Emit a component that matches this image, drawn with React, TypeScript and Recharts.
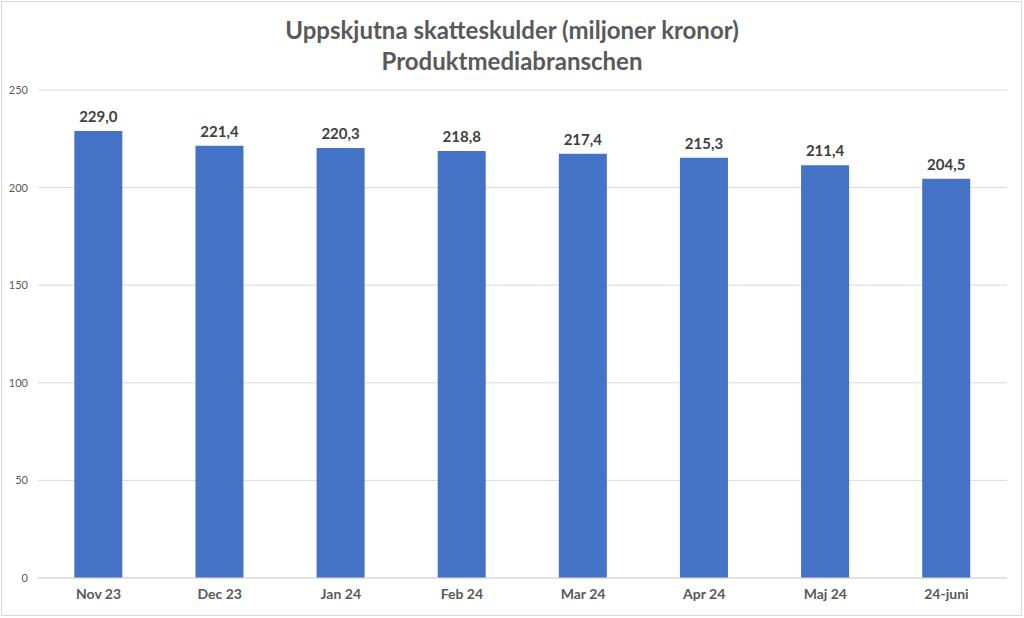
import React from 'react';
import {
  BarChart,
  Bar,
  XAxis,
  YAxis,
  CartesianGrid,
  LabelList,
} from 'recharts';

const months = ['Nov 23', 'Dec 23', 'Jan 24', 'Feb 24', 'Mar 24', 'Apr 24', 'Maj 24', '24-juni'];
const debts = [229.0, 221.4, 220.3, 218.8, 217.4, 215.3, 211.4, 204.5];
const yTicks = [0, 50, 100, 150, 200, 250];

const FONT = 'Lato, "Open Sans", sans-serif';

function fmt(v: any) {
  const n = Number(v);
  return Number.isFinite(n) ? n.toFixed(1).replace('.', ',') : '';
}

export default function App() {
  const data = months.map((m, i) => ({ month: m, value: debts[i] }));

  return (
    <div
      style={{
        position: 'fixed',
        left: 0,
        top: 0,
        width: 1024,
        height: 618,
        background: '#fff',
        fontFamily: FONT,
      }}
    >
      <div
        style={{
          position: 'absolute',
          left: 1,
          top: 1,
          width: 1021,
          height: 615,
          border: '1px solid #d9d9d9',
          boxSizing: 'border-box',
        }}
      />
      <div
        style={{
          position: 'absolute',
          left: 0,
          top: 14,
          width: 1024,
          textAlign: 'center',
          color: '#595959',
          fontWeight: 700,
          fontSize: 24,
          lineHeight: '31px',
        }}
      >
        Uppskjutna skatteskulder (miljoner kronor)
        <br />
        Produktmediabranschen
      </div>
      <div style={{ position: 'absolute', left: 0, top: 0 }}>
        <BarChart
          width={1024}
          height={618}
          data={data}
          margin={{ top: 90, right: 17, bottom: 0, left: 0 }}
          barCategoryGap="30%"
        >
          <CartesianGrid vertical={false} stroke="#d9d9d9" />
          <XAxis
            dataKey="month"
            height={40}
            tickLine={false}
            tickSize={0}
            tickMargin={11}
            axisLine={{ stroke: '#d9d9d9' }}
            tick={{ fill: '#595959', fontSize: 14, fontWeight: 700, fontFamily: FONT }}
          />
          <YAxis
            width={38}
            domain={[0, 250]}
            ticks={yTicks}
            tickLine={false}
            tickSize={0}
            tickMargin={10}
            axisLine={false}
            tick={{ fill: '#595959', fontSize: 11, fontFamily: FONT }}
          />
          <Bar dataKey="value" fill="#4472C4" isAnimationActive={false}>
            <LabelList
              dataKey="value"
              position="top"
              offset={9}
              formatter={fmt}
              style={{ fill: '#404040', fontSize: 15, fontWeight: 700, fontFamily: FONT }}
            />
          </Bar>
        </BarChart>
      </div>
    </div>
  );
}
